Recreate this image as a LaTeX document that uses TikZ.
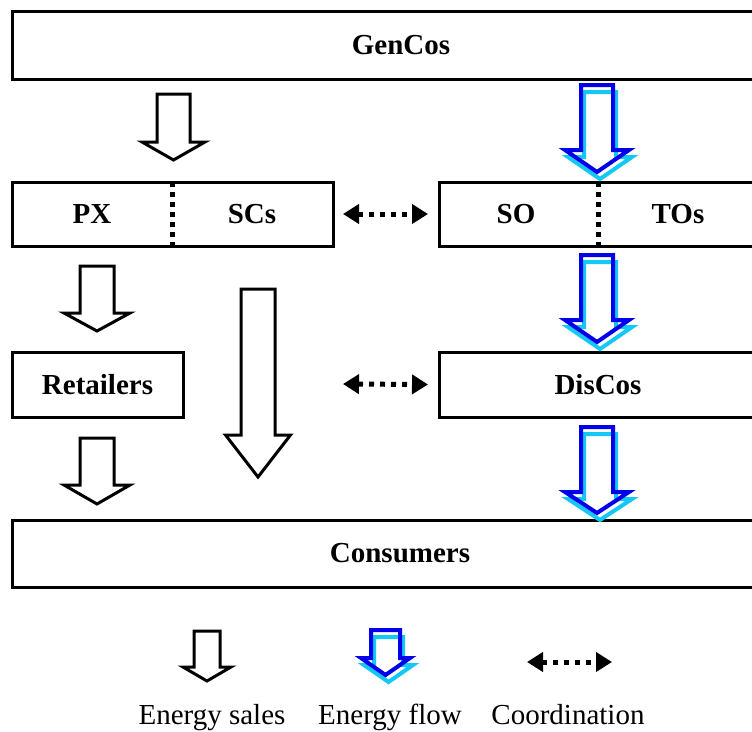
\documentclass[tikz,border=0pt]{standalone}
\usepackage{fontspec}
\setmainfont{Liberation Serif}
\usetikzlibrary{arrows.meta}

\definecolor{flowdark}{RGB}{0,0,235}
\definecolor{flowlight}{RGB}{20,200,245}

% hollow block arrow: style, x, top, head base, tip, half shaft, half head
\newcommand\blockarrow[7]{%
  \draw[#1] ({#2-#6},#3) -- ({#2+#6},#3) -- ({#2+#6},#4) -- ({#2+#7},#4)
    -- (#2,#5) -- ({#2-#7},#4) -- ({#2-#6},#4) -- cycle;}
% energy-flow arrow: light outline set off behind a dark outline
\newcommand\flowarrow[6]{%
  \begin{scope}[shift={(3,7)}]\blockarrow{flowL}{#1}{#2}{#3}{#4}{#5}{#6}\end{scope}%
  \blockarrow{flowD}{#1}{#2}{#3}{#4}{#5}{#6}}

\tikzset{
  box/.style={draw, line width=3pt, rectangle, inner sep=0pt, outer sep=0pt},
  lbl/.style={font=\fontsize{29}{32}\selectfont\bfseries, inner sep=0pt},
  legtext/.style={font=\fontsize{29}{32}\selectfont, inner sep=0pt, anchor=base},
  sales/.style={draw, line width=3pt},
  flowD/.style={draw=flowdark, line width=4pt},
  flowL/.style={draw=flowlight, line width=4pt},
  divider/.style={line width=5pt, dash pattern=on 5pt off 5pt},
  coordarrow/.style={line width=5pt, dash pattern=on 5pt off 6pt,
    {Triangle[length=16pt,width=19pt]}-{Triangle[length=16pt,width=19pt]}},
}

\begin{document}
\begin{tikzpicture}[x=1pt, y=-1pt]
\useasboundingbox (0,0) rectangle (752,731);
\clip (0,0) rectangle (752,731);

% boxes
\node[box, minimum width=778pt, minimum height=68pt] (gencos) at (401,45) {};
\node[lbl] (gencoslbl) at (401,45) {GenCos};

\node[box, minimum width=321pt, minimum height=64pt] (pxsc) at (172.5,214) {};
\node[lbl] (px) at (92,214) {PX};
\node[lbl] (scs) at (252,214) {SCs};
\draw[divider] (172,182) -- (172,246);

\node[box, minimum width=321pt, minimum height=64pt] (soto) at (599.5,214) {};
\node[lbl] (so) at (516,214) {SO};
\node[lbl] (tos) at (678,214) {TOs};
\draw[divider] (598,182) -- (598,246);

\node[box, minimum width=171pt, minimum height=65pt] (retailers) at (97.5,384.5) {};
\node[lbl] (retailerslbl) at (97.5,384.5) {Retailers};

\node[box, minimum width=318pt, minimum height=65pt] (discos) at (598,384.5) {};
\node[lbl] (discoslbl) at (598,384.5) {DisCos};

\node[box, minimum width=776pt, minimum height=67pt] (consumers) at (400,553.5) {};
\node[lbl] (consumerslbl) at (400,553.5) {Consumers};

% energy sales
\blockarrow{sales}{173.5}{94}{142}{160}{16.5}{31.5}
\blockarrow{sales}{97}{266}{313}{331}{17}{33}
\blockarrow{sales}{97}{438}{485}{504}{17}{33}
\blockarrow{sales}{258}{289}{435}{477}{17}{32.5}

% energy flow
\flowarrow{597}{85}{150}{172}{16}{32}
\flowarrow{597}{255}{320}{342}{16}{32}
\flowarrow{597}{427}{492}{513}{16}{32}

% coordination
\draw[coordarrow] ([xshift=10pt]pxsc.east) -- ([xshift=-11pt]soto.west);
\coordinate (coordtail) at (343,384);
\draw[coordarrow] (coordtail) -- ([xshift=-11pt]discos.west);

% legend
\blockarrow{sales}{207}{631}{667}{681}{13}{24}
\flowarrow{385.5}{630}{658}{675}{14.5}{24.5}
\coordinate (legcoordL) at (527,662);
\coordinate (legcoordR) at (612,662);
\draw[coordarrow] (legcoordL) -- (legcoordR);

\node[legtext] (legsales) at (212,724) {Energy sales};
\node[legtext] (legflow) at (390,724) {Energy flow};
\node[legtext] (legcoord) at (568,724) {Coordination};
\end{tikzpicture}
\end{document}
